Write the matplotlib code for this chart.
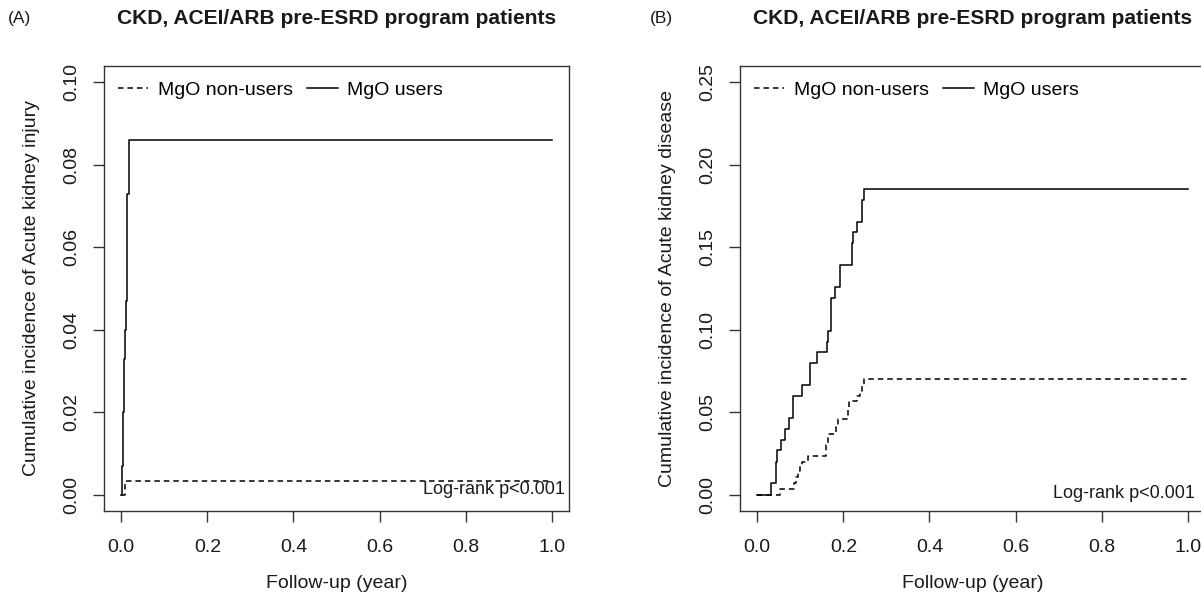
import matplotlib
matplotlib.use("Agg")
import matplotlib.pyplot as plt

plt.rcParams['font.family'] = ['Liberation Sans', 'DejaVu Sans']

# ---------------- data ----------------
panel_tags = ["(A)", "(B)"]
titles = ["CKD, ACEI/ARB pre-ESRD program patients",
          "CKD, ACEI/ARB pre-ESRD program patients"]
ylabels = ["Cumulative incidence of Acute kidney injury",
           "Cumulative incidence of Acute kidney disease"]
xlabel = "Follow-up (year)"
legend_labels = ["MgO non-users", "MgO users"]
pvalue_text = "Log-rank p<0.001"

x_ticks = [0.0, 0.2, 0.4, 0.6, 0.8, 1.0]
y_ticks_A = [0.00, 0.02, 0.04, 0.06, 0.08, 0.10]
y_ticks_B = [0.00, 0.05, 0.10, 0.15, 0.20, 0.25]

# Panel A: acute kidney injury
A_nonusers_t = [0.0, 0.008, 1.0]
A_nonusers_y = [0.0, 0.0033, 0.0033]
A_users_t = [0.0, 0.002, 0.004, 0.006, 0.009, 0.011, 0.014, 0.018, 1.0]
A_users_y = [0.0, 0.007, 0.020, 0.033, 0.040, 0.047, 0.073, 0.086, 0.086]

# Panel B: acute kidney disease
B_nonusers_t = [0.0, 0.053, 0.085, 0.090, 0.095, 0.100, 0.105, 0.118, 0.160,
                0.164, 0.183, 0.188, 0.210, 0.214, 0.232, 0.238, 0.243, 0.248, 1.0]
B_nonusers_y = [0.0, 0.0035, 0.0070, 0.0105, 0.0140, 0.0175, 0.0200, 0.0233, 0.0300,
                0.0367, 0.0410, 0.0460, 0.0510, 0.0566, 0.0600, 0.0630, 0.0665, 0.0698, 0.0698]
B_users_t = [0.0, 0.033, 0.043, 0.047, 0.056, 0.064, 0.074, 0.082, 0.105, 0.122,
             0.139, 0.162, 0.164, 0.172, 0.180, 0.193, 0.219, 0.222, 0.232, 0.244, 0.247, 1.0]
B_users_y = [0.0, 0.0069, 0.0197, 0.0268, 0.0333, 0.0400, 0.0467, 0.0596, 0.0663, 0.0799,
             0.0862, 0.0927, 0.0993, 0.1194, 0.1259, 0.1393, 0.1525, 0.1590, 0.1656, 0.1788,
             0.1853, 0.1853]

# ---------------- figure ----------------
W, H = 1201, 595
fig = plt.figure(figsize=(W / 100, H / 100), dpi=100)

ax_w, ax_h = 465, 445
ax_bottom = 511
ax_lefts = [104, 740]
tag_x = [19, 661]
pval_right = [565, 1195]
pval_y = [490, 494]

panels = [
    (A_nonusers_t, A_nonusers_y, A_users_t, A_users_y, y_ticks_A),
    (B_nonusers_t, B_nonusers_y, B_users_t, B_users_y, y_ticks_B),
]

FS = 14
dash = (3.6, 2.6)

for i, (nt, ny, ut, uy, yt) in enumerate(panels):
    ax = fig.add_axes([ax_lefts[i] / W, (H - ax_bottom) / H, ax_w / W, ax_h / H])
    l1, = ax.step(nt, ny, where='post', color='black', lw=1.1, linestyle=(0, dash))
    l2, = ax.step(ut, uy, where='post', color='black', lw=1.1)

    rng = yt[-1] - yt[0]
    ax.set_xlim(-0.04, 1.04)
    ax.set_ylim(yt[0] - 0.04 * rng, yt[-1] + 0.04 * rng)
    ax.set_xticks(x_ticks)
    ax.set_xticklabels([f"{v:.1f}" for v in x_ticks])
    ax.set_yticks(yt)
    ax.set_yticklabels([f"{v:.2f}" for v in yt], rotation=90, va='center')
    ax.tick_params(axis='both', length=8, width=1, color='#333333',
                   labelsize=FS, colors='#1a1a1a')
    ax.tick_params(axis='x', pad=12)
    ax.tick_params(axis='y', pad=9)
    for s in ax.spines.values():
        s.set_linewidth(1)
        s.set_color('#333333')

    ax.set_xlabel(xlabel, fontsize=FS, color='#1a1a1a')
    ax.xaxis.set_label_coords(0.5, -(584 - ax_bottom) / ax_h)
    ax.xaxis.label.set_va('center')
    ax.set_ylabel(ylabels[i], fontsize=FS, color='#1a1a1a')
    ax.yaxis.set_label_coords(-73 / ax_w, 0.5)
    ax.yaxis.label.set_va('center')

    ax.set_title(titles[i], fontsize=15.1, fontweight='bold', color='#1a1a1a',
                 y=1 + (66 - 19) / ax_h, va='center', pad=0)

    ax.legend([l1, l2], legend_labels, loc='upper left',
              bbox_to_anchor=(14 / ax_w, 1 - 15 / ax_h), ncol=2, frameon=False,
              fontsize=FS, handlelength=1.55, handletextpad=0.5, columnspacing=0.75,
              borderpad=0, borderaxespad=0)

    ax.text((pval_right[i] - ax_lefts[i]) / ax_w, (ax_bottom - pval_y[i]) / ax_h,
            pvalue_text, transform=ax.transAxes,
            ha='right', va='center', fontsize=13, color='#1a1a1a')

    fig.text(tag_x[i] / W, 1 - 18 / H, panel_tags[i], ha='center', va='center',
             fontsize=12.5, color='#1a1a1a')

fig.savefig("out.png", dpi=100)
